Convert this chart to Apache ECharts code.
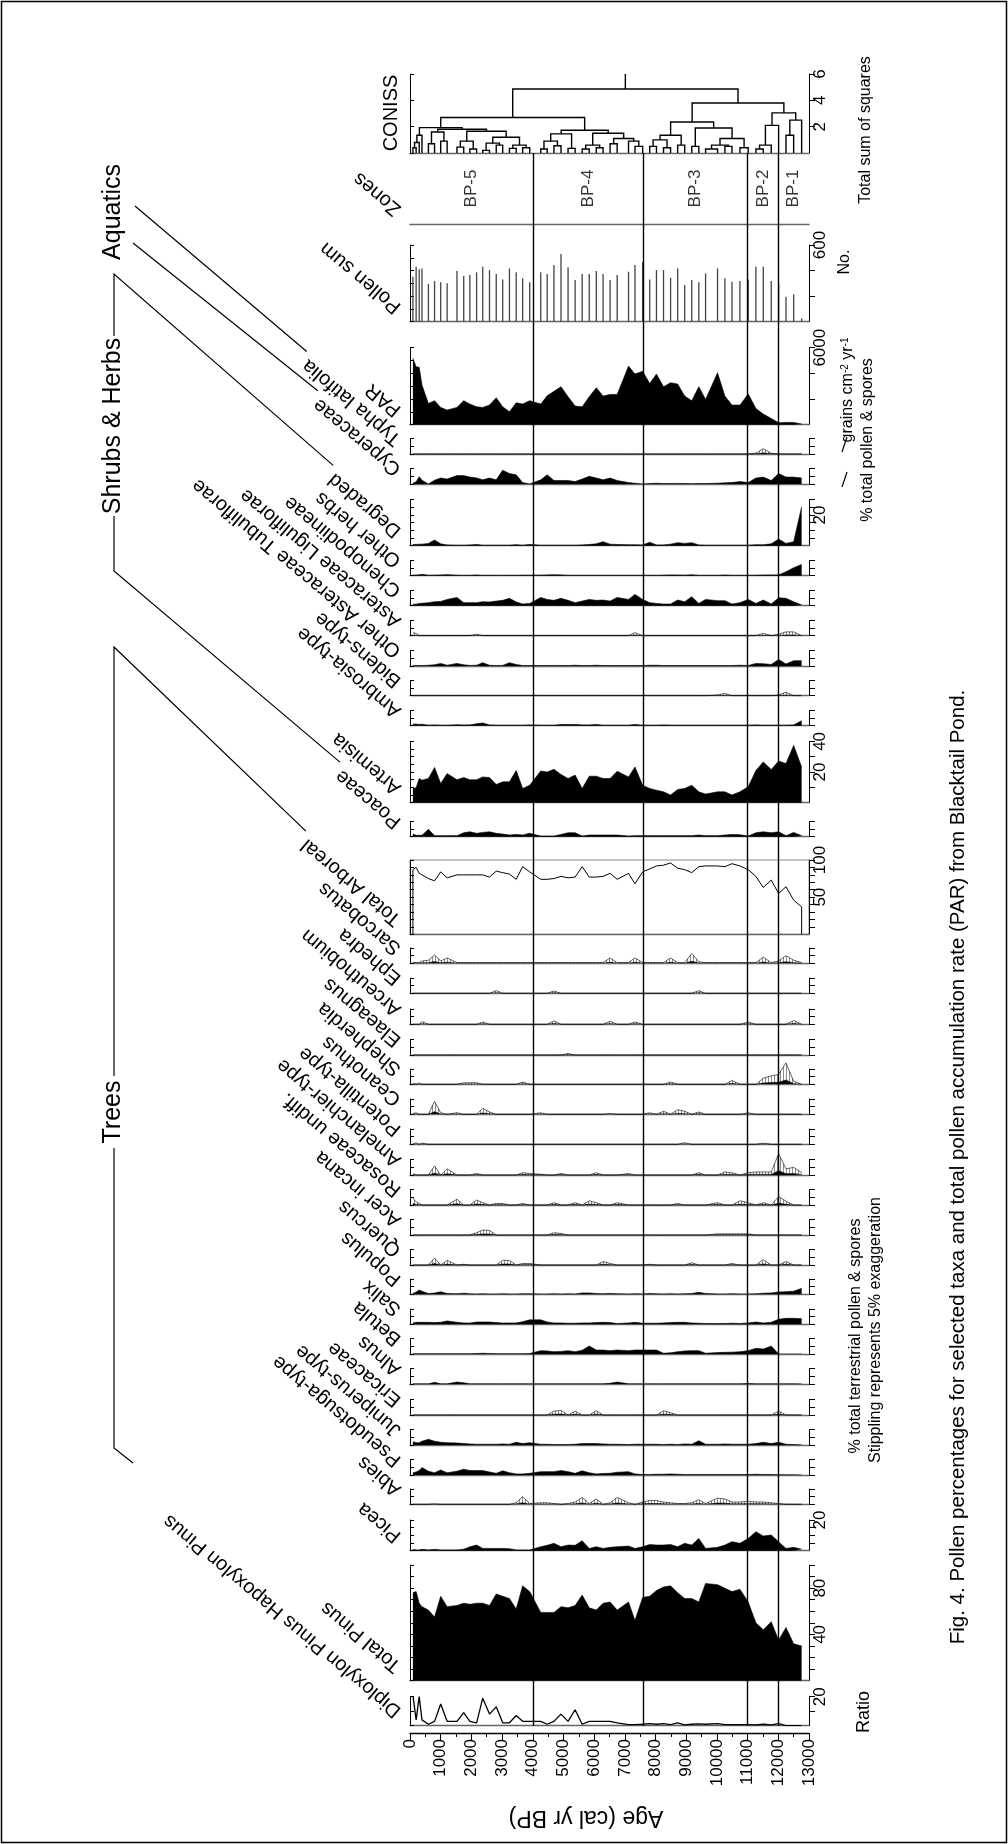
<!DOCTYPE html>
<html>
<head>
<meta charset="utf-8">
<script src="https://cdn.jsdelivr.net/npm/echarts@6/dist/echarts.min.js"></script>
<style>
  html, body { margin: 0; padding: 0; background: #fff; }
  #chart { width: 1008px; height: 1844px; }
</style>
</head>
<body>
<div id="chart"></div>
<script>
// sample ages (cal yr BP)
const ages = [95,200,300,390,600,800,1000,1210,1530,1750, 1950,2170,2370,2590,2810,3020,3240,3460,3670,3900,
  4260,4470,4690,4920,5150,5380,5610,5840,6070,6290, 6520,6750,7120,7330,7580,7810,8030,8260,8490,8720,
  8950,9180,9410,9630,10020,10260,10490,10750,11020,11270, 11510,11770,12010,12250,12500,12760];

const zoneBounds = [4000, 7600, 11000, 12000];
const zoneNames = ['BP-5', 'BP-4', 'BP-3', 'BP-2', 'BP-1'];
const zoneMids = [2000, 5800, 9300, 11500, 12500];

const pollenSum = [352,430,410,417,295,318,308,300,397,357, 365,386,430,404,373,331,417,386,339,308,
  386,373,443,530,425,326,373,373,397,373, 326,365,391,443,464,331,404,404,344,417,
  287,326,308,378,417,339,313,318,330,430, 430,318,300,196,214,26];
const par = [5170,4520,4470,3090,1660,1870,1350,1140,1350,1870, 1610,1400,1350,1530,2100,1400,1010,1710,1610,1870,
  1610,2260,2600,2960,2180,1450,1400,2180,2880,2230, 2360,2360,4570,3950,4160,3220,3950,2960,3270,3170,
  2230,1870,2960,1970,4050,2230,1530,1530,2390,1270, 830,490,155,180,180,50];
const typha = [0,0,0,0,0,0,0,0,0,0, 0,0,0,0,0,0,0,0,0,0, 0,0,0,0,0,0,0,0,0,0, 0,0,0,0,0,0,0,0,0,0,
  0,0,0,0,0,0,0,0,0,0.1, 0.7,0.1,0,0,0,0];
const cyperaceae = [0.5,1.5,4.8,2.5,0,2.5,3.9,3.2,5.5,5.5, 4.5,4,2.7,3.9,2.7,9,6.8,6,0.9,0,
  2.7,6,2.3,2.3,2.3,1.6,3.2,5,3.9,2.7, 3.9,2.3,0.9,0.5,0,0.3,0.5,0.3,0.3,0.4,
  0.3,0.2,0.3,0.3,0.5,0.8,1,1.6,0.9,3.9, 4.5,2.3,6.8,4.5,4.5,3.9];
const degraded = [0.8,0.8,1,1,1.5,3.7,1.2,0.5,0.3,0.3, 0.5,0.8,0.3,0.3,0.3,0.3,0.3,0.7,0.3,0.8,
  0.3,0.3,0.3,0.3,0.3,0.3,0.5,0.8,1.2,2.6, 1,0.8,0.6,0.6,0.5,2.2,0.5,0.5,1,2,
  1.5,2,0.5,0.3,0.3,0.3,0.3,0.3,0.3,0.6, 0.6,1.2,4.3,1.5,2.6,25.4];
const otherHerbs = [0.3,0.4,0.6,0.9,0.3,0.3,0.5,0.7,0.3,0.2, 0.2,0.4,0.2,0.2,0.2,0.2,0.2,0.2,0.3,0.3,
  0.3,0.5,0.6,0.5,0.2,0.2,0.2,0.2,0.2,0.2, 0.2,0.2,0.2,0.2,0.2,0.2,0.2,0.3,0.5,0.4,
  0.3,0.6,0.2,0.2,0.2,0.4,0.2,0.2,0.2,0.3, 0.4,0.5,0.5,2.6,5.2,7.4];
const chenopodiineae = [0.9,1,1.5,1.6,2,2.6,2.8,4.1,5.4,2, 2,2,2.6,2.4,3,3.5,4.8,2.5,1.1,1.5,
  5.4,4.1,3.5,4.8,3.5,2,3,4.1,3.5,3.7, 3,5.4,4.1,7.4,4.1,2,1.5,1.1,1.1,3.7,
  2.6,5.9,1.5,4.1,3.3,3.3,1.1,2,4.1,1.5, 3.7,1.1,5.2,4.8,2.6,0.5];
const asteraceaeLig = [0.4,0.3,0,0,0,0,0,0,0,0, 0,0.2,0,0,0,0,0,0,0,0, 0,0,0,0,0,0,0,0,0,0,
  0,0,0,0.4,0,0,0,0,0,0, 0,0,0,0,0,0,0,0,0,0, 0.3,0,0.2,0.5,0.5,0];
const otherAsteraceae = [0.3,0.3,0.3,0.3,0.5,0.8,1.7,0.5,1.7,0.8, 0.4,0.5,2.2,0.5,0.3,0.4,2.2,1,0.3,0.3,
  0.3,0.3,0.4,0.3,0.3,0.5,0.3,0.3,0.5,0.3, 0.3,0.3,0.3,0.3,0.3,0.5,0.5,0.3,0.3,0.3,
  0.3,0.3,0.3,0.3,0.3,0.3,0.3,0.5,0.3,1.7, 1.5,1,4.3,1.3,3.5,3.5];
const bidens = [0,0,0,0,0,0,0,0,0,0, 0,0,0,0,0,0,0,0,0,0, 0,0,0,0,0,0,0,0,0,0, 0,0,0,0,0,0,0,0,0,0,
  0,0,0,0,0.1,0.3,0,0,0,0, 0,0,0.1,0.45,0,0];
const ambrosia = [1,1.1,0.8,1,0.3,0.5,0.3,0.3,0.6,0.5, 0.5,1.3,1.8,0.5,0.3,0.3,0.3,0.3,0.3,0.5,
  0.3,0.3,0.3,0.8,0.8,0.8,0.5,0.5,0.8,0.3, 0.3,0.3,0.3,0.8,0.3,0.3,0.3,0.5,0.3,0.3,
  0.3,0.3,0.3,0.3,0.3,0.3,0.3,0.3,0.3,0.5, 0.3,0.3,0.3,0.3,0.5,3.3];
const artemisia = [9.3,9.7,15.8,14.7,15.8,23,12.5,19,15,16.4, 15,15,16.8,16.4,11.9,13.6,13.6,21,9.3,11.4,
  20.7,20,21.8,18.4,15.8,18,9.3,17.3,17.3,15.8, 15.8,20.5,16.8,23.3,11.4,9.3,8.2,7.1,5,8.6,
  9.3,11.4,7.1,5.6,7.1,7.1,5,7.1,10.4,21, 26.6,21.6,27.2,25.5,37.4,23.3];
const poaceae = [1.7,0.9,0.9,0.9,4.8,0.7,0.7,0.7,0.7,2.6, 3.2,2.2,2.8,3.2,2.2,1.7,1.1,1.5,1.1,2.2,
  0.4,0.4,0.4,1.5,2.6,2.6,0.4,1.1,1.1,1.1, 1.1,1.1,0.4,0.7,0.7,0.7,0.7,0.7,0.7,0.7,
  0.7,0.7,1.1,0.7,0.7,1.1,1.5,1.3,0.4,2.6, 3.2,2.6,3.2,0.7,2.8,0.7];
const totalArboreal = [87,90,82,80,75,72,84,76,80,80, 80,80,80,77,85,83,81,74,91,84,
  74,74,75,78,76,77,91,77,77,78, 82,74,82,68,84,88,92,93,96,89,
  87,83,91,92,92,91,95,92,87,78, 63,73,55,64,46,37];
const sarcobatus = [0.1,0.1,0.1,0.3,0.4,1.1,0.3,0.7,0.1,0.1, 0.1,0.1,0.1,0.1,0.1,0.1,0.1,0.1,0.1,0.1,
  0.1,0.1,0.1,0.1,0.1,0.1,0.1,0.1,0.1,0.1, 0.7,0.1,0.1,0.7,0.1,0.1,0.1,0.1,0.7,0.1,
  0.1,1.3,0.2,0.1,0.1,0.1,0.1,0.1,0.1,0.1, 0.8,0.1,0.3,1,0.4,0.1];
const ephedra = [0,0,0,0,0,0,0,0,0,0, 0,0,0,0,0.35,0,0,0,0,0, 0,0,0.3,0,0,0,0,0,0,0, 0,0,0,0,0,0,0,0,0,0,
  0,0,0.35,0,0,0,0,0,0,0, 0,0,0,0,0,0];
const arceuthobium = [0,0,0,0.35,0,0,0,0,0,0, 0,0,0.3,0,0,0,0,0,0,0, 0,0,0.45,0,0,0,0,0,0,0,
  0.4,0,0,0.3,0,0,0,0,0,0, 0,0,0,0,0,0,0,0,0.3,0, 0,0,0,0,0.5,0];
const elaeagnus = [0,0,0,0,0,0,0,0,0,0, 0,0,0,0,0,0,0,0,0,0, 0,0,0,0,0.2,0,0,0,0,0, 0,0,0,0,0,0,0,0,0,0,
  0,0,0,0,0,0,0,0,0,0, 0,0,0,0,0,0];
const shepherdia = [0.1,0,0.15,0,0,0,0,0,0,0.2, 0.2,0.2,0,0,0,0,0,0,0.3,0, 0,0,0,0,0,0,0,0,0,0,
  0,0,0,0,0,0,0,0,0.3,0, 0,0,0,0,0,0,0.5,0,0,0, 0.8,1.1,1.3,2.8,0.4,0];
const ceanothus = [0.1,0.2,0,0,0,1.7,0.2,0,0.2,0, 0,0,0.8,0.3,0,0,0,0,0,0, 0.2,0,0,0,0,0,0,0,0,0,
  0.1,0,0,0,0,0.2,0,0.4,0,0.6, 0.4,0,0.3,0,0,0,0,0,0.2,0, 0,0,0,0,0,0];
const potentilla = [0,0.2,0,0.15,0,0,0,0,0,0, 0,0,0,0,0,0,0,0,0,0, 0,0,0,0,0,0,0,0,0,0, 0,0,0,0,0,0,0,0,0,0,
  0.2,0,0,0,0,0,0,0,0,0, 0.15,0,0,0,0,0];
const amelanchier = [0.2,0,0,0,0,1.2,0,0.8,0,0, 0,0.2,0,0,0,0,0,0,0.3,0.2, 0.1,0,0,0.2,0,0,0,0,0.3,0,
  0,0,0.2,0,0,0,0,0,0,0, 0,0,0.3,0,0,0.4,0.3,0,0.3,0.4, 0.4,0.4,2.8,0.8,1,0.3];
const rosaceae = [0.9,0.4,0.2,0,0,0,0,0,0.75,0, 0,0.65,0.3,0,0.2,0.2,0,0,0.2,0, 0,0,0.3,0,0,0.3,0,0.55,0.3,0,
  0,0.3,0,0,0,0,0,0,0,0.2, 0,0,0,0,0.3,0,0,0.55,0.3,0, 0.3,0,1.1,0.5,0,0];
const acer = [0,0,0,0,0,0,0,0,0,0, 0,0.3,0.65,0.6,0,0,0,0,0,0, 0,0,0.3,0.2,0,0,0,0,0,0, 0,0,0,0,0,0,0,0,0,0,
  0,0,0,0,0.15,0.15,0.15,0.15,0.15,0, 0,0,0,0,0,0];
const quercus = [0,0,0,0,0,0.9,0,0.6,0,0.1, 0,0,0,0,0,0.6,0.6,0,0.2,0.2, 0,0,0,0,0,0,0,0,0,0.45,
  0.2,0,0,0,0,0.1,0,0,0,0, 0,0.3,0,0,0,0,0.2,0,0,0, 0.7,0,0,0.45,0,0];
const populus = [0.5,1.5,2.8,2,0.5,0.8,1.7,0.5,0.3,0.7, 0.3,0.2,0.3,0.2,0.2,0.3,0.2,0.2,0.3,0.3,
  0.2,0.2,0.3,0.2,0.3,0.2,0.9,0.9,0.5,0.3, 0.6,0.3,0.2,0.3,0.2,0.5,0.3,0.2,0.3,0.2,
  0.3,0.5,1.3,0.5,0.2,0.2,0.3,0.2,0.2,0.3, 0.7,0.9,1.5,1.7,2,3.9];
const salix = [0.9,1.3,1.3,1.3,1.3,1.1,1.3,2.2,1.3,0.9, 0.8,1.5,1.5,1.5,1.1,0.8,0.9,0.9,1.7,2.9,
  2.9,1.5,0.9,0.9,0.7,0.7,0.9,0.9,1.1,1.3, 1.1,0.5,0.9,1.3,0.7,0.7,0.7,0.9,1.1,1.3,
  1.3,0.9,0.7,0.5,0.5,0.5,0.7,0.5,0.9,1.5, 0.9,1.3,3.3,3.9,3.9,3.7];
const betula = [0.2,0.2,0.2,0.2,0.2,0.2,0.2,0.2,0.2,0.2, 0.2,0.3,0.5,0.3,0.2,0.2,0.2,0.2,0.2,0.3,
  2.2,2,1.5,1.7,2.2,1.5,2.5,5.2,2.6,2.6, 2.2,2.6,2.2,2.6,2.6,2.6,2.6,0.5,0.8,1.5,
  2,2.2,2.2,0.5,0.9,1.1,1.2,1.5,2.2,3.7, 3.2,5.2,0,0,0,0];
const alnus = [0.1,0.1,0.1,0.1,0.1,1.1,0.1,0.1,1.3,0.8, 0.1,0.1,0.1,0.1,0.1,0.1,0.1,0.1,0.1,0.1,
  0.1,0.1,0.1,0.1,0.1,0.1,0.1,0.1,0.1,0.1, 0.5,1.3,0.1,0.1,0.1,0.1,0.1,0.1,0.1,0.1,
  0.1,0.1,0.1,0.1,0.1,0.1,0.1,0.1,0.4,0.1, 0.1,0.1,0.1,0.1,0.1,0.1];
const ericaceae = [0,0,0,0,0,0,0,0,0,0, 0,0,0,0,0,0,0,0,0,0, 0,0,0.5,0.6,0,0.5,0,0,0.55,0,
  0,0,0,0,0,0,0,0.55,0.3,0, 0,0,0,0,0,0,0,0,0,0, 0,0,0.5,0,0,0];
const juniperus = [2.2,1.5,1.5,2.5,3.7,2.5,1.8,1.5,1.3,1, 0.7,0.5,0.5,0.5,0.5,0.7,0.5,1.8,0.9,1.5,
  0.5,0.5,0.3,0.3,0.3,0.5,0.9,1,0.9,0.7, 0.5,0.5,0.3,0.5,0.5,0.5,0.5,0.3,0.5,0.3,
  0.7,0.5,2.8,0.5,0.5,0.7,0.5,0.5,0.5,0.9, 1.8,0.9,1.8,0.5,0.3,0.2];
const pseudotsuga = [1.5,2,3,4.9,2.5,1.5,3.3,1.5,2.5,3.8, 2.9,2.9,2.9,2,1.1,2.7,1.5,0.7,0.7,1.1,
  2.2,2.2,2.2,2.9,2.2,1.1,2.7,1.5,0.7,1, 1.1,1.8,2.2,0.7,0.3,0.3,0.5,0.5,0.7,0.5,
  0.3,0.3,0.3,0.3,0.3,0.3,0.3,0.3,0.3,0.5, 0.3,0.3,0.2,0.2,0.1,0];
const abies = [0,0,0,0,0,0.05,0,0,0,0, 0,0,0,0,0,0,0,0.2,1,0.1,
  0.2,0.2,0.1,0,0.1,0.3,0.9,0.1,0.7,0, 0.2,0.9,0.2,0,0.3,0.5,0.5,0.3,0.2,0.1,
  0.1,0.2,0.6,0.1,0.8,0.7,0.3,0.3,0.4,0.3, 0.3,0.2,0.1,0,0,0];
const picea = [0.9,0.5,0.5,0.9,0.5,0.9,0.5,0.5,0.5,1, 2.5,3.7,1.5,1.5,1.5,1.5,1.3,0.5,0.5,0.5,
  2.6,3.5,4.8,2.6,3.7,3.5,6.5,1.5,2.6,1.5, 2.2,2.6,3,1.5,2.6,4,3.7,3.7,4,2.6,
  4.8,3.7,8,1.5,2.2,3.7,5.9,4.8,8,12.4, 9.6,10.2,5.9,1.5,2.2,1];
const totalPinus = [76,77,67,64,61,55,73,64,65,67, 66,67,67,65,75,73,71,62,82,77,
  59,59,59,64,63,65,74,63,61,67, 68,61,68,52,72,73,78,81,82,76,
  71,71,68,84,83,80,77,79,68,50, 44,51,35,46,32,30];
const dipHapRatio = [21,4,20,4,1,3,15,3,3,9, 3,2,19,8,13,2,2,7,3,3,
  3,1,3,8,3,11,1,3,3,3, 3,2,0.7,0.7,1,1.5,1,1.5,0.7,2,
  0.5,1,1.3,1,1.5,0.7,0.7,0.7,0.7,0.5, 1,0.5,1.5,0,0,0];

// CONISS dendrogram: [left, right, total sum of squares]; numbers are sample indices
const conissBP5 = [[[[0,1,0.4],2,0.8],3,1.35],
  [[[4,5,0.7],[6,7,0.9],1.6], [[[8,9,0.45],[10,11,0.3],0.9],
    [[[12,13,0.2],[14,15,0.6],0.75],[[16,17,0.35],[18,19,0.4],0.6],1.2],1.65],1.8], 1.93];
const conissBP4 = [[[[20,21,0.3],[22,23,0.55],0.9],[24,25,0.35],1.45],
  [[[26,27,0.3],[28,29,0.4],0.6],[[30,31,0.7],[32,[33,34,0.5],0.9],1.1],1.5], 1.73];
const conissBP3 = [[[[35,36,0.5],[37,38,0.4],1.0],[39,40,0.6],1.35],
  [[41,42,0.5],[[[43,44,0.3],[45,46,0.5],0.6],[47,48,0.4],1.1],1.9], 2.36];
const conissBP2 = [[[49,50,0.3],51,0.6],52,2.1];
const conissBP1 = [[53,54,1.35],55,2.5];
const conissTree = [[conissBP5, conissBP4, 2.7], [conissBP3, [conissBP2, conissBP1, 3.05], 3.8], 4.86];

// ---------- layout ----------
const FF = '"Liberation Sans", Arial, Helvetica, sans-serif';
const X0 = 410, XW = 399;
const ROT = 140 * Math.PI / 180;
const DX = Math.cos(ROT), DY = -Math.sin(ROT);

const panels = [
  {label: 'Pollen sum', data: pollenSum, base: 321.7, top: 245, max: 600, lt: 100, rt: 200, labs: [600], kind: 'bar'},
  {label: 'PAR', data: par, base: 424.7, top: 347.7, max: 6000, lt: 1000, rt: 2000, labs: [6000], kind: 'area'},
  {label: 'Typha latifolia', data: typha, base: 454, kind: 'exag'},
  {label: 'Cyperaceae', data: cyperaceae, base: 484, kind: 'area'},
  {label: 'Degraded', data: degraded, base: 545.7, top: 499.7, max: 30, labs: [20], kind: 'area'},
  {label: 'Other herbs', data: otherHerbs, base: 575.7, kind: 'area'},
  {label: 'Chenopodiineae', data: chenopodiineae, base: 605.7, kind: 'area'},
  {label: 'Asteraceae Liguliflorae', data: asteraceaeLig, base: 635.7, kind: 'exag'},
  {label: 'Other Asteraceae Tubuliflorae', data: otherAsteraceae, base: 666, kind: 'area'},
  {label: 'Bidens-type', data: bidens, base: 695.7, kind: 'exag'},
  {label: 'Ambrosia-type', data: ambrosia, base: 725.7, kind: 'area'},
  {label: 'Artemisia', data: artemisia, base: 802.7, top: 741.4, max: 40, lt: 5, rt: 10, labs: [20, 40], kind: 'area'},
  {label: 'Poaceae', data: poaceae, base: 836.7, kind: 'area'},
  {label: 'Total Arboreal', data: totalArboreal, base: 934.3, top: 860, max: 100, lt: 10, rt: 10, labs: [50, 100], kind: 'box'},
  {label: 'Sarcobatus', data: sarcobatus, base: 963.3, kind: 'exag'},
  {label: 'Ephedra', data: ephedra, base: 993.3, kind: 'exag'},
  {label: 'Arceuthobium', data: arceuthobium, base: 1024.3, kind: 'exag'},
  {label: 'Elaeagnus', data: elaeagnus, base: 1055, kind: 'exag'},
  {label: 'Shepherdia', data: shepherdia, base: 1084.3, kind: 'exag'},
  {label: 'Ceanothus', data: ceanothus, base: 1114.3, kind: 'exag'},
  {label: 'Potentilla-type', data: potentilla, base: 1144.3, kind: 'exag'},
  {label: 'Amelanchier-type', data: amelanchier, base: 1175, kind: 'exag'},
  {label: 'Rosaceae undiff.', data: rosaceae, base: 1205, kind: 'exag'},
  {label: 'Acer incana', data: acer, base: 1235, kind: 'exag'},
  {label: 'Quercus', data: quercus, base: 1265, kind: 'exag'},
  {label: 'Populus', data: populus, base: 1294.3, kind: 'area'},
  {label: 'Salix', data: salix, base: 1324.3, kind: 'area'},
  {label: 'Betula', data: betula, base: 1354, kind: 'area'},
  {label: 'Alnus', data: alnus, base: 1384, kind: 'area'},
  {label: 'Ericaceae', data: ericaceae, base: 1415, kind: 'exag'},
  {label: 'Juniperus-type', data: juniperus, base: 1445, kind: 'area'},
  {label: 'Pseudotsuga-type', data: pseudotsuga, base: 1475, kind: 'area'},
  {label: 'Abies', data: abies, base: 1504.3, kind: 'exag'},
  {label: 'Picea', data: picea, base: 1550.7, top: 1520, max: 20, labs: [20], kind: 'area'},
  {label: 'Total Pinus', data: totalPinus, base: 1680.7, top: 1565, max: 100, lt: 10, rt: 10, labs: [40, 80], kind: 'area'},
  {label: 'Diploxylon Pinus Hapoxylon Pinus', data: dipHapRatio, base: 1725.7, top: 1696.7, max: 20, lt: 10, rt: 10, labs: [20], kind: 'line'}
];

// stipple pattern for the 5x exaggeration curves
const stip = document.createElement('canvas');
stip.width = 3; stip.height = 2;
(function () {
  const g = stip.getContext('2d');
  g.fillStyle = '#fff'; g.fillRect(0, 0, 3, 2);
  g.fillStyle = '#8a8a8a'; g.fillRect(0, 0, 1, 2);
})();
const stipple = {image: stip, repeat: 'repeat'};

const mctx = document.createElement('canvas').getContext('2d');
function tw(t, size) { mctx.font = size + 'px ' + FF; return mctx.measureText(t).width; }

const grids = [], xAxes = [], yAxes = [], series = [], els = [];

function addGrid(top, base, cfg) {
  const gi = grids.length;
  grids.push({left: X0, width: XW, top: top, height: base - top, show: !!cfg.box,
    borderColor: '#888', borderWidth: 1, outerBoundsMode: 'none', containLabel: false});
  xAxes.push({gridIndex: gi, type: 'value', min: 0, max: 13000, position: 'bottom', show: cfg.baseline !== false,
    axisLine: {show: true, onZero: false, lineStyle: {color: '#666', width: 1.4}},
    axisTick: {show: false}, axisLabel: {show: false}, splitLine: {show: false}});
  const yi = yAxes.length;
  if (cfg.max == null) {
    yAxes.push({gridIndex: gi, type: 'value', min: 0, max: 1, show: false});
  } else {
    const labs = cfg.labs || [];
    yAxes.push({gridIndex: gi, type: 'value', position: 'left', min: 0, max: cfg.max, interval: cfg.lt,
      axisLine: {show: true, onZero: false, lineStyle: {color: '#000', width: 1}},
      axisTick: {show: true, inside: true, length: 4, lineStyle: {color: '#000', width: 1}},
      axisLabel: {show: false}, splitLine: {show: false}});
    yAxes.push({gridIndex: gi, type: 'value', position: 'right', min: 0, max: cfg.max, interval: cfg.rt,
      axisLine: {show: true, onZero: false, lineStyle: {color: '#000', width: 1}},
      axisTick: {show: true, inside: false, length: 6, lineStyle: {color: '#000', width: 1}},
      axisLabel: {show: labs.length > 0, rotate: 90, margin: 3, fontSize: 17, color: '#000', fontFamily: FF,
        showMinLabel: false, showMaxLabel: true,
        formatter: v => (labs.indexOf(v) >= 0 ? String(v) : '')},
      splitLine: {show: false}});
  }
  return {xi: gi, yi: yi};
}

function addLabel(text, base) {
  const ax = 405, ay = base - 20;
  els.push({type: 'text', x: ax, y: ay, rotation: ROT, z: 50, silent: true,
    style: {text: text, font: '20px ' + FF, fill: '#000', textAlign: 'left', textVerticalAlign: 'bottom',
      align: 'left', verticalAlign: 'bottom'}});
  const w = tw(text, 20) + 6;
  return [ax + w * DX, ay + w * DY];
}

function vtext(text, x, y, size, rot) {
  els.push({type: 'text', x: x, y: y, rotation: rot == null ? Math.PI / 2 : rot, z: 50, silent: true,
    style: {text: text, font: size + 'px ' + FF, fill: '#000', textAlign: 'center', textVerticalAlign: 'middle',
      align: 'center', verticalAlign: 'middle'}});
}

function pline(points, w) {
  els.push({type: 'polyline', z: 40, silent: true, shape: {points: points},
    style: {stroke: '#000', lineWidth: w || 1.2, fill: null}});
}

// CONISS
(function () {
  const ax = addGrid(74, 153, {max: 6, lt: 2, rt: 2, labs: [2, 4, 6]});
  const segs = [];
  function build(node) {
    if (typeof node === 'number') return {x: ages[node], h: 0};
    const a = build(node[0]), b = build(node[1]), h = node[2];
    segs.push({coords: [[a.x, a.h], [a.x, h], [b.x, h], [b.x, b.h]]});
    return {x: (a.x + b.x) / 2, h: h};
  }
  const root = build(conissTree);
  segs.push({coords: [[root.x, root.h], [root.x, 6]]});
  series.push({type: 'lines', coordinateSystem: 'cartesian2d', xAxisIndex: ax.xi, yAxisIndex: ax.yi,
    polyline: true, silent: true, data: segs, lineStyle: {color: '#000', width: 1.4, opacity: 1}, z: 3});
  vtext('CONISS', 391, 113, 20);
  vtext('Total sum of squares', 866, 130, 16);
})();

// zones strip
(function () {
  const ax = addGrid(153, 224, {});
  series.push({type: 'scatter', xAxisIndex: ax.xi, yAxisIndex: ax.yi, symbolSize: 1, silent: true,
    itemStyle: {color: 'rgba(0,0,0,0)'},
    data: zoneMids.map((m, i) => ({name: zoneNames[i], value: [m, 0.5]})),
    label: {show: true, position: 'inside', rotate: 90, formatter: '{b}', fontSize: 17, color: '#000', fontFamily: FF}});
  addLabel('Zones', 224);
})();

const labelEnds = {};
panels.forEach(p => {
  const top = p.top != null ? p.top : p.base - 15.3;
  const ax = addGrid(top, p.base, {max: p.max != null ? p.max : 10, lt: p.lt || 5, rt: p.rt || 5,
    labs: p.labs || [], box: p.kind === 'box'});
  const pts = ages.map((a, i) => [a, p.data[i]]);
  const base = {xAxisIndex: ax.xi, yAxisIndex: ax.yi, silent: true, symbol: 'none'};
  if (p.kind === 'bar') {
    series.push(Object.assign({}, base, {type: 'bar', data: pts, barWidth: 1.3, itemStyle: {color: '#444'}, z: 3}));
  } else if (p.kind === 'line') {
    series.push(Object.assign({}, base, {type: 'line', data: pts, lineStyle: {color: '#000', width: 1.3}, z: 3}));
  } else if (p.kind === 'box') {
    const d = [[ages[0], 0]].concat(pts, [[ages[ages.length - 1], 0]]);
    series.push(Object.assign({}, base, {type: 'line', data: d, lineStyle: {color: '#000', width: 1}, z: 3}));
  } else {
    if (p.kind === 'exag') {
      series.push(Object.assign({}, base, {type: 'line', clip: false, z: 2,
        data: ages.map((a, i) => [a, p.data[i] * 5]),
        lineStyle: {color: '#000', width: 0.6}, areaStyle: {color: stipple, opacity: 1}}));
    }
    series.push(Object.assign({}, base, {type: 'line', data: pts, z: 3,
      lineStyle: {color: '#000', width: 0.6}, areaStyle: {color: '#000', opacity: 1}}));
  }
  labelEnds[p.label] = addLabel(p.label, p.base);
});

// zone boundary lines across all panels
(function () {
  const ax = addGrid(153, 1726, {baseline: false});
  series.push({type: 'line', xAxisIndex: ax.xi, yAxisIndex: ax.yi, data: [[0, 0]], symbol: 'none', silent: true,
    lineStyle: {opacity: 0}, z: 10,
    markLine: {silent: true, symbol: ['none', 'none'], label: {show: false},
      lineStyle: {color: '#000', width: 1.4, type: 'solid'}, data: zoneBounds.map(v => ({xAxis: v}))}});
})();

// age axis
(function () {
  const gi = grids.length;
  grids.push({left: X0, width: XW, top: 1732, height: 1, outerBoundsMode: 'none'});
  xAxes.push({gridIndex: gi, type: 'value', min: 0, max: 13000, interval: 1000, position: 'bottom',
    axisLine: {show: true, onZero: false, lineStyle: {color: '#000', width: 1.3}},
    axisTick: {show: true, length: 8, lineStyle: {color: '#000', width: 1}},
    minorTick: {show: true, splitNumber: 2, length: 4, lineStyle: {color: '#000', width: 1}},
    axisLabel: {show: true, rotate: 90, margin: 6, fontSize: 17, color: '#000', fontFamily: FF,
      formatter: v => String(v)},
    splitLine: {show: false}});
  yAxes.push({gridIndex: gi, type: 'value', min: 0, max: 1, show: false});
  vtext('Age (cal yr BP)', 586, 1817, 23, Math.PI);
})();

// group headers and leader lines
vtext('Aquatics', 113, 212, 25);
vtext('Shrubs & Herbs', 113, 426, 25);
vtext('Trees', 113, 1112, 25);
pline([[135, 206], labelEnds['Typha latifolia']]);
pline([[133, 243], labelEnds['Cyperaceae']]);
pline([[114, 336], [114, 274], labelEnds['Degraded']]);
pline([[114, 516], [114, 571], labelEnds['Poaceae']]);
pline([[114, 1076], [114, 647], labelEnds['Total Arboreal']]);
pline([[114, 1148], [114, 1448], [133, 1463]]);

// right-side notes
vtext('No.', 845, 262, 16);
els.push({type: 'text', x: 848, y: 390, rotation: Math.PI / 2, z: 50, silent: true,
  style: {text: 'grains cm{s|-2} yr{s|-1}', fontSize: 16, fontFamily: FF, fill: '#000',
    textAlign: 'center', textVerticalAlign: 'middle', align: 'center', verticalAlign: 'middle',
    rich: {s: {fontSize: 10, fontFamily: FF, fill: '#000', verticalAlign: 'top'}}}});
vtext('% total pollen & spores', 868, 440, 16);
pline([[842, 452], [847, 437]], 1.2);
pline([[842, 487], [847, 472]], 1.2);
vtext('Ratio', 864, 1712, 18);
vtext('% total terrestrial pollen & spores', 856, 1336, 16);
vtext('Stippling represents 5% exaggeration', 876, 1330, 16);
vtext('Fig. 4. Pollen percentages for selected taxa and total pollen accumulation rate (PAR) from Blacktail Pond.', 958, 1167, 20.5);

// outer frame
els.push({type: 'rect', z: 60, silent: true, shape: {x: 1.5, y: 1.5, width: 1005, height: 1841},
  style: {stroke: '#000', lineWidth: 1.5, fill: null}});

const chart = echarts.init(document.getElementById('chart'), null, {renderer: 'canvas'});
chart.setOption({
  animation: false,
  backgroundColor: '#fff',
  textStyle: {fontFamily: FF},
  grid: grids,
  xAxis: xAxes,
  yAxis: yAxes,
  series: series,
  graphic: {elements: els}
});
</script>
</body>
</html>
